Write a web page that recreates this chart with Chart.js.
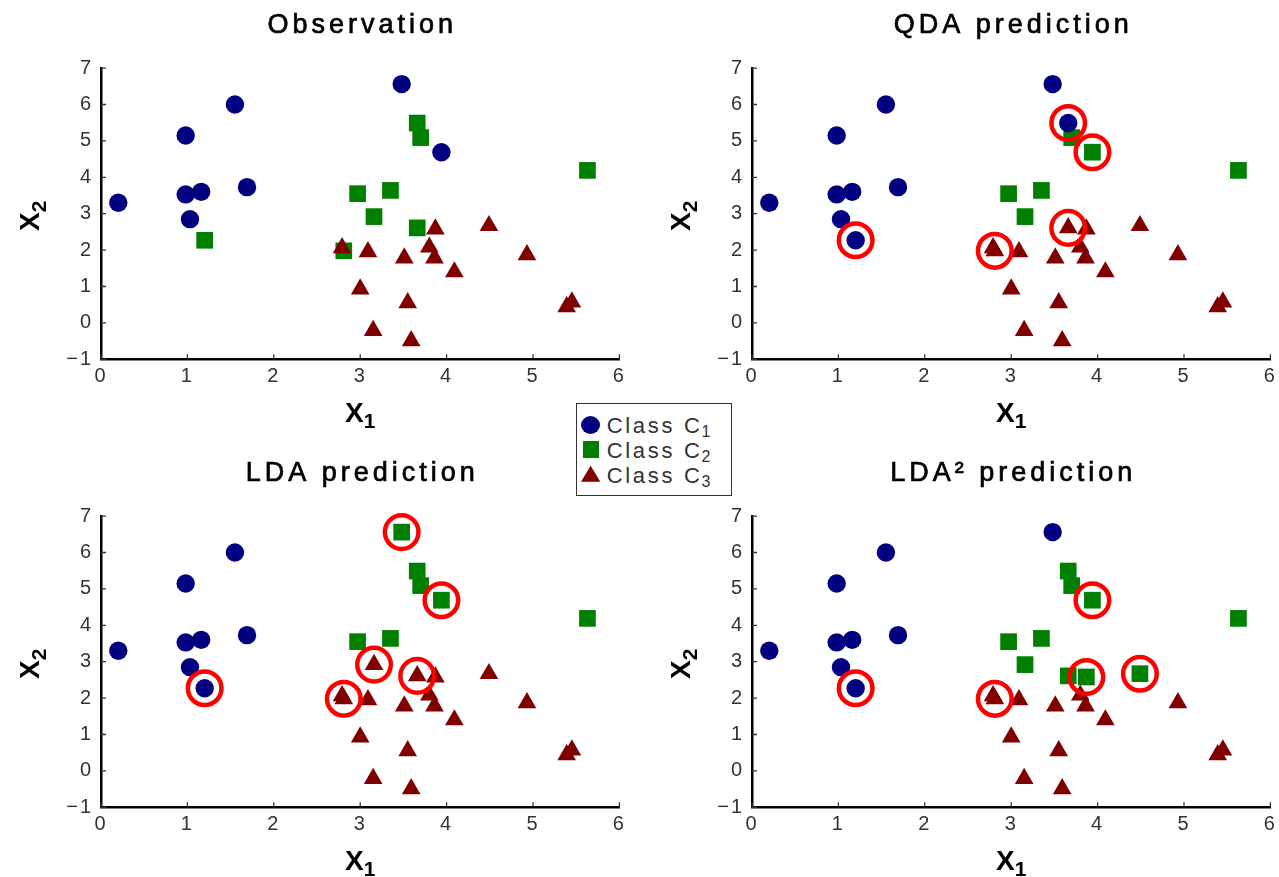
<!DOCTYPE html>
<html>
<head>
<meta charset="utf-8">
<title>Discriminant analysis: observed and predicted classes</title>
<script src="https://cdn.jsdelivr.net/npm/chart.js@4.4.1/dist/chart.umd.min.js"></script>
<style>
  html, body { margin: 0; padding: 0; background: #fff; overflow: hidden; }
  body { width: 1279px; height: 877px; position: relative; }
  .panel { position: absolute; width: 628px; height: 429px; }
  #p0 { left: 0; top: 0; }
  #p1 { left: 651px; top: 0; }
  #p2 { left: 0; top: 448px; }
  #p3 { left: 651px; top: 448px; }
  #legend {
    position: absolute; left: 576px; top: 403px; width: 156px; height: 93px;
    box-sizing: border-box; border: 1px solid #333; background: #fff;
    font-family: "Liberation Sans", Arial, sans-serif; font-size: 22px; color: #333;
    z-index: 5;
  }
  #legend .row { position: absolute; left: 0; width: 100%; height: 25px; line-height: 25px; }
  #legend .txt { position: absolute; left: 29.7px; top: 0; letter-spacing: 2.7px; white-space: nowrap; }
  #legend .sub { font-size: 16px; position: relative; top: 4px; letter-spacing: 0; margin-left: -1px; }
  #legend .mk { position: absolute; left: 4.2px; }
  #legend .mk0 { width: 19px; height: 18px; border-radius: 50%; background: #000080; top: 2.7px; }
  #legend .mk1 { width: 16.5px; height: 16.5px; background: #008000; left: 5.5px; top: 3px; }
  #legend .mk2 { width: 19.3px; height: 16px; background: #800000; left: 4px; top: 2.6px;
                 clip-path: polygon(50% 0, 100% 100%, 0 100%); }
</style>
</head>
<body>
<div class="panel" id="p0"><canvas id="c0"></canvas></div>
<div class="panel" id="p1"><canvas id="c1"></canvas></div>
<div class="panel" id="p2"><canvas id="c2"></canvas></div>
<div class="panel" id="p3"><canvas id="c3"></canvas></div>
<div id="legend"></div>

<script>
// ---- data -------------------------------------------------------------
// Two features per sample
const x1 = [3.48, 1.55, 0.98, 3.94, 0.20, 0.98, 1.16, 1.69, 1.03,
            3.66, 3.70, 5.63, 2.97, 3.35, 3.16, 3.66, 1.20, 2.81,
            3.87, 4.49, 2.79, 3.09, 3.80, 3.51, 3.86, 4.93, 4.09, 3.00, 3.55, 5.45, 5.39, 3.15, 3.59];
const x2 = [6.56, 6.00, 5.15, 4.69, 3.30, 3.53, 3.60, 3.73, 2.85,
            5.49, 5.09, 4.19, 3.55, 3.64, 2.92, 2.61, 2.27, 1.98,
            2.58, 2.67, 2.06, 1.95, 2.08, 1.78, 1.78, 1.87, 1.40, 0.93, 0.55, 0.57, 0.44, -0.21, -0.49];

// True class of each sample (1, 2, 3)
const observed      = [1,1,1,1,1,1,1,1,1, 2,2,2,2,2,2,2,2,2, 3,3,3,3,3,3,3,3,3,3,3,3,3,3,3];
// Class assigned by each classifier
const qdaPredicted  = [1,1,1,2,1,1,1,1,1, 1,2,2,2,2,2,3,1,3, 3,3,3,3,3,3,3,3,3,3,3,3,3,3,3];
const ldaPredicted  = [2,1,1,2,1,1,1,1,1, 2,2,2,2,2,3,3,1,3, 3,3,3,3,3,3,3,3,3,3,3,3,3,3,3];
const lda2Predicted = [1,1,1,2,1,1,1,1,1, 2,2,2,2,2,2,2,1,3, 2,2,3,3,3,3,3,3,3,3,3,3,3,3,3];

const panelTitles = ['Observation', 'QDA prediction', 'LDA prediction', 'LDA\u00B2 prediction'];
const panelLabels = [observed, qdaPredicted, ldaPredicted, lda2Predicted];

const classNames = ['Class C', 'Class C', 'Class C'];
const classSubscripts = ['1', '2', '3'];

const xTicks = [0, 1, 2, 3, 4, 5, 6];
const yTicks = [-1, 0, 1, 2, 3, 4, 5, 6, 7];
const xAxisName = ['X', '1'];
const yAxisName = ['X', '2'];

// ---- styles -----------------------------------------------------------
const FONT = '"Liberation Sans", Arial, sans-serif';
const classColors = ['#000080', '#008000', '#800000'];
const classOrder = [1, 3, 2];          // green lowest, then red, blue on top

const classStyles = [
  { pointStyle: 'circle', pointRadius: 9.2 },
  { pointStyle: 'rect', pointRadius: 11.8 },
  { pointStyle: 'triangle', pointRadius: 10.8 }
];

function buildDatasets(labels) {
  const sets = [];
  for (let k = 0; k < 3; k++) {
    const pts = [];
    for (let i = 0; i < x1.length; i++) if (labels[i] === k + 1) pts.push({ x: x1[i], y: x2[i] });
    sets.push(Object.assign({
      label: classNames[k] + classSubscripts[k],
      data: pts,
      backgroundColor: classColors[k],
      borderWidth: 0,
      order: classOrder[k],
      clip: false
    }, classStyles[k]));
  }
  // red rings around samples whose predicted class differs from the observed one
  const miss = [];
  for (let i = 0; i < x1.length; i++) if (labels[i] !== observed[i]) miss.push({ x: x1[i], y: x2[i] });
  sets.push({
    label: 'misclassified', data: miss, pointStyle: 'circle', pointRadius: 16.8,
    backgroundColor: 'rgba(0,0,0,0)', borderColor: '#ff0000', borderWidth: 4.5,
    order: 0, clip: false
  });
  return sets;
}

// ---- plugins ----------------------------------------------------------
const textSpacing = {
  id: 'textSpacing',
  beforeDraw(chart) { chart.ctx.letterSpacing = '2px'; },
  afterDraw(chart) { chart.ctx.letterSpacing = '0px'; }
};

// tick marks pointing into the plot area
const innerTicks = {
  id: 'innerTicks',
  beforeDatasetsDraw(chart) {
    const { ctx, chartArea: a, scales: { x, y } } = chart;
    ctx.save();
    ctx.strokeStyle = '#333';
    ctx.lineWidth = 1.3;
    ctx.beginPath();
    x.ticks.forEach(t => {
      const px = x.getPixelForValue(t.value);
      ctx.moveTo(px, a.bottom); ctx.lineTo(px, a.bottom - 5);
    });
    y.ticks.forEach(t => {
      const py = y.getPixelForValue(t.value);
      ctx.moveTo(a.left, py); ctx.lineTo(a.left + 5, py);
    });
    ctx.stroke();
    ctx.restore();
  }
};

// panel title and subscripted axis names
const panelText = {
  id: 'panelText',
  afterDraw(chart, args, opts) {
    const { ctx, chartArea: a } = chart;
    const cx = (a.left + a.right) / 2;
    ctx.save();
    ctx.fillStyle = '#000';
    ctx.strokeStyle = '#000';
    ctx.textBaseline = 'alphabetic';

    ctx.letterSpacing = '4px';
    ctx.font = '27px ' + FONT;
    ctx.textAlign = 'center';
    ctx.lineWidth = 0.7;
    ctx.fillText(opts.title, cx + 2, opts.titleBaseline);
    ctx.strokeText(opts.title, cx + 2, opts.titleBaseline);

    ctx.letterSpacing = '0px';
    ctx.textAlign = 'left';
    const bigFont = 'bold 28px ' + FONT;
    const subFont = 'bold 21px ' + FONT;
    const drawName = (name, cxl, base) => {
      ctx.font = bigFont; const w0 = ctx.measureText(name[0]).width;
      ctx.font = subFont; const w1 = ctx.measureText(name[1]).width;
      const start = cxl - (w0 + w1) / 2;
      ctx.font = bigFont; ctx.fillText(name[0], start, base);
      ctx.font = subFont; ctx.fillText(name[1], start + w0, base + 6.5);
    };
    drawName(xAxisName, cx, a.bottom + 62.4);

    ctx.translate(39, (a.top + a.bottom) / 2 + 2);
    ctx.rotate(-Math.PI / 2);
    drawName(yAxisName, 0, 0);
    ctx.restore();
  }
};

// ---- charts -----------------------------------------------------------
function tickLabel(v) { return v < 0 ? '\u2212' + Math.abs(v) : String(v); }

panelTitles.forEach((title, p) => {
  new Chart(document.getElementById('c' + p), {
    type: 'scatter',
    data: { datasets: buildDatasets(panelLabels[p]) },
    options: {
      responsive: true,
      maintainAspectRatio: false,
      animation: false,
      events: [],
      layout: { autoPadding: false, padding: { top: 68.1, right: 8.6, bottom: 0, left: 0 } },
      plugins: {
        legend: { display: false },
        tooltip: { enabled: false },
        title: { display: false },
        panelText: { title: title, titleBaseline: p < 2 ? 33 : 32.5 }
      },
      scales: {
        x: {
          type: 'linear', position: 'bottom',
          min: xTicks[0], max: xTicks[xTicks.length - 1],
          afterFit(s) { s.height = 69.7; s.paddingLeft = 0; s.paddingRight = 0; },
          afterBuildTicks(s) { s.ticks = xTicks.map(v => ({ value: v })); },
          ticks: { padding: 4.7, maxRotation: 0, autoSkip: false, color: '#333',
                   font: { family: FONT, size: 20 }, callback: tickLabel },
          grid: { display: true, drawOnChartArea: false, drawTicks: false },
          border: { display: true, color: '#000', width: 2.5 }
        },
        y: {
          type: 'linear', position: 'left',
          min: yTicks[0], max: yTicks[yTicks.length - 1],
          afterFit(s) { s.width = 101; s.paddingTop = 0; s.paddingBottom = 0; },
          afterBuildTicks(s) { s.ticks = yTicks.map(v => ({ value: v })); },
          ticks: { padding: 8, autoSkip: false, color: '#333',
                   font: { family: FONT, size: 20 }, callback: tickLabel },
          grid: { display: true, drawOnChartArea: false, drawTicks: false },
          border: { display: true, color: '#000', width: 2.5 }
        }
      }
    },
    plugins: [textSpacing, innerTicks, panelText]
  });
});

// ---- legend -----------------------------------------------------------
const legendBox = document.getElementById('legend');
classNames.forEach((name, k) => {
  const row = document.createElement('div');
  row.className = 'row';
  row.style.top = (9.2 + 25 * k) + 'px';
  const mk = document.createElement('span');
  mk.className = 'mk mk' + k;
  const txt = document.createElement('span');
  txt.className = 'txt';
  txt.textContent = name;
  const sub = document.createElement('span');
  sub.className = 'sub';
  sub.textContent = classSubscripts[k];
  txt.appendChild(sub);
  row.appendChild(mk);
  row.appendChild(txt);
  legendBox.appendChild(row);
});
</script>
</body>
</html>
